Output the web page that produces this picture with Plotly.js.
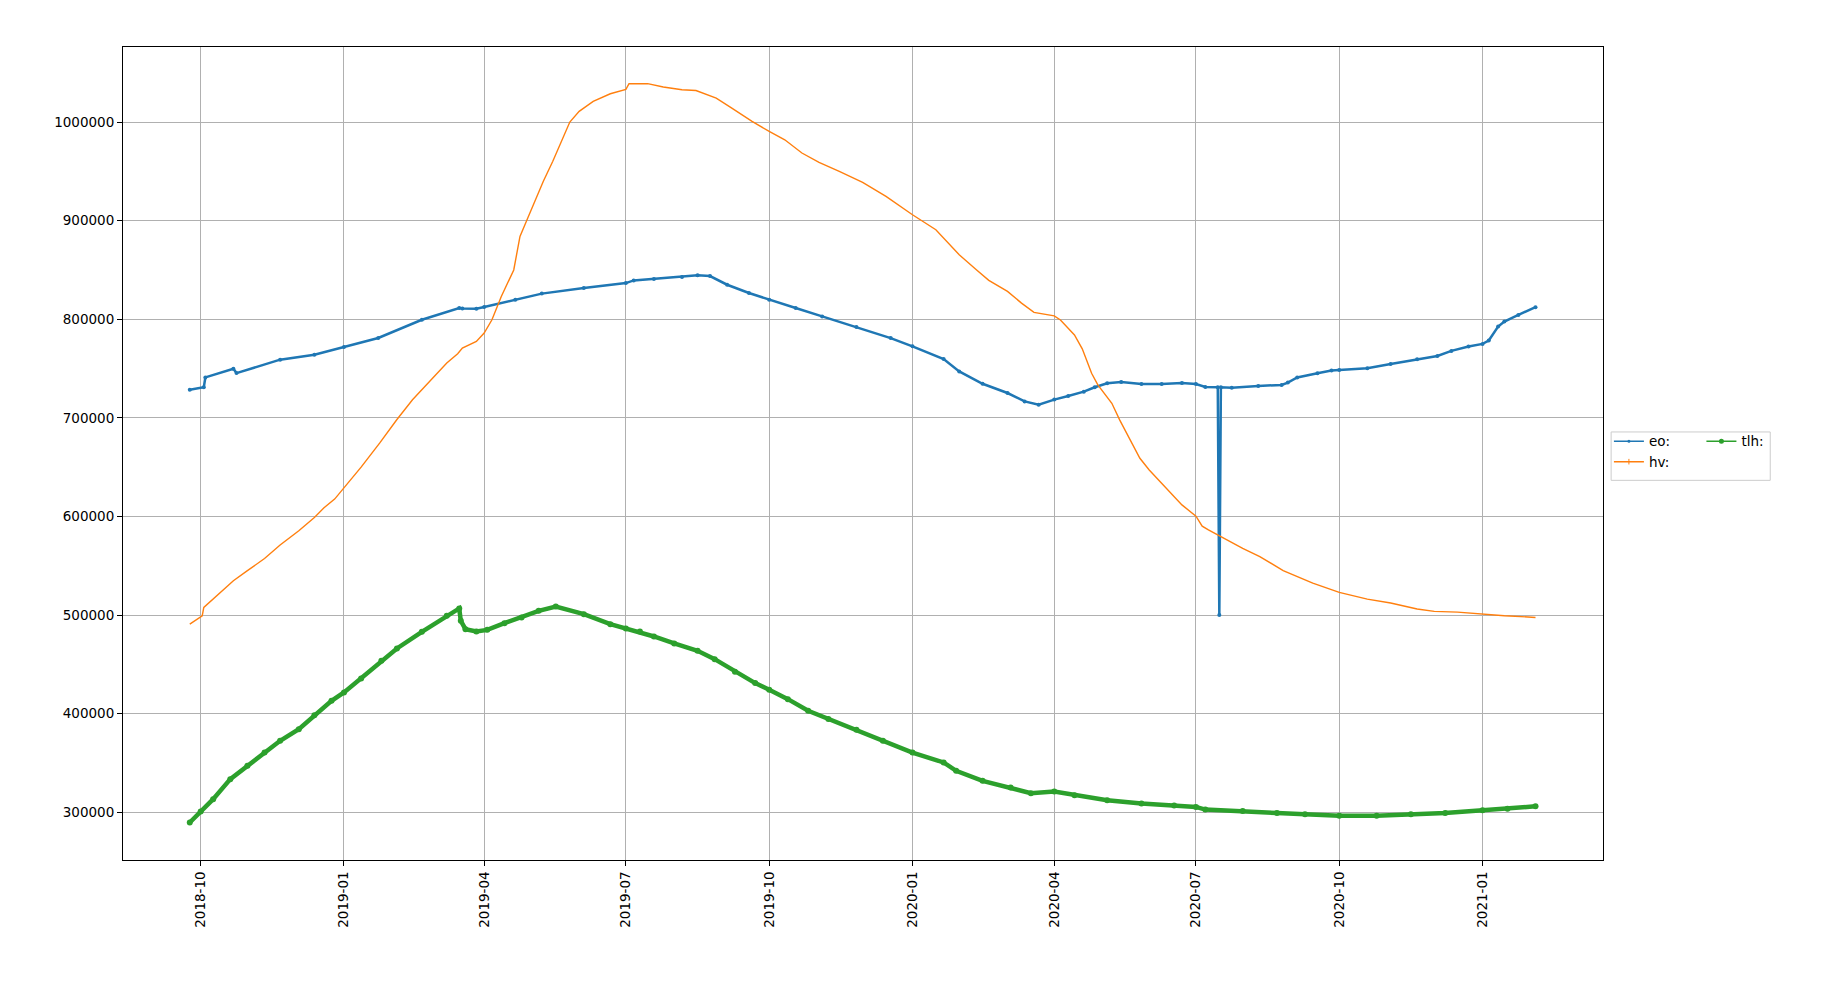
<!DOCTYPE html>
<html>
<head>
<meta charset="utf-8">
<script src="https://cdn.plot.ly/plotly-3.0.1.min.js"></script>
<style>
  html, body { margin: 0; padding: 0; background: #fff; }
  #chart { width: 1848px; height: 982px; }
</style>
</head>
<body>
<div id="chart"></div>
<script>
// valores
const eoFechas = [
  "2018-09-24", "2018-10-03", "2018-10-04", "2018-10-22", "2018-10-24", "2018-11-21",
  "2018-12-13", "2019-01-01", "2019-01-23", "2019-02-20", "2019-03-16", "2019-03-18",
  "2019-03-27", "2019-04-01", "2019-04-21", "2019-05-08", "2019-06-04", "2019-07-01",
  "2019-07-06", "2019-07-19", "2019-08-06", "2019-08-16", "2019-08-24", "2019-09-04",
  "2019-09-18", "2019-10-01", "2019-10-18", "2019-11-04", "2019-11-26", "2019-12-18",
  "2020-01-01", "2020-01-21", "2020-01-31", "2020-02-15", "2020-03-02", "2020-03-13",
  "2020-03-22", "2020-04-01", "2020-04-10", "2020-04-20", "2020-04-27", "2020-05-05",
  "2020-05-14", "2020-05-27", "2020-06-09", "2020-06-22", "2020-07-01", "2020-07-07",
  "2020-07-15", "2020-07-16", "2020-07-17", "2020-07-24", "2020-08-10", "2020-08-25",
  "2020-08-29", "2020-09-04", "2020-09-17", "2020-09-26", "2020-10-01", "2020-10-19",
  "2020-11-03", "2020-11-20", "2020-12-03", "2020-12-12", "2020-12-23", "2021-01-01",
  "2021-01-05", "2021-01-11", "2021-01-15", "2021-01-24", "2021-02-04"
];
const eoValores = [
  728500, 731000, 741000, 749800, 745400, 759000,
  764000, 771800, 781000, 799500, 811400, 810800,
  810700, 812400, 819800, 826000, 831600, 836700,
  839400, 840800, 842800, 844500, 843800, 835000,
  826600, 819800, 811400, 802900, 792100, 780900,
  772500, 759600, 747100, 734600, 725200, 716700,
  713300, 718500, 722200, 726600, 731000, 735100,
  736400, 734400, 734400, 735300, 734300, 731300,
  731000, 500000, 731000, 730600, 732400, 733400,
  735800, 740900, 745300, 748000, 748600, 750300,
  754700, 759500, 762800, 767900, 772300, 775000,
  778400, 792600, 797600, 804400, 812200
];

const hvFechas = [
  "2018-09-24", "2018-10-02", "2018-10-03", "2018-10-09", "2018-10-22", "2018-10-31",
  "2018-11-11", "2018-11-21", "2018-12-03", "2018-12-13", "2018-12-19", "2018-12-26",
  "2019-01-01", "2019-01-12", "2019-01-24", "2019-02-04", "2019-02-14", "2019-02-25",
  "2019-03-08", "2019-03-15", "2019-03-18", "2019-03-27", "2019-04-01", "2019-04-06",
  "2019-04-12", "2019-04-20", "2019-04-24", "2019-04-29", "2019-05-04", "2019-05-09",
  "2019-05-15", "2019-05-20", "2019-05-26", "2019-06-01", "2019-06-10", "2019-06-21",
  "2019-07-01", "2019-07-03", "2019-07-15", "2019-07-25", "2019-08-06", "2019-08-15",
  "2019-08-28", "2019-09-07", "2019-09-20", "2019-10-01", "2019-10-11", "2019-10-22",
  "2019-11-02", "2019-11-15", "2019-11-30", "2019-12-15", "2019-12-24", "2020-01-01",
  "2020-01-16", "2020-01-20", "2020-01-31", "2020-02-11", "2020-02-19", "2020-03-02",
  "2020-03-11", "2020-03-19", "2020-03-28", "2020-04-01", "2020-04-05", "2020-04-14",
  "2020-04-19", "2020-04-25", "2020-04-29", "2020-05-08", "2020-05-13", "2020-05-20",
  "2020-05-26", "2020-06-01", "2020-06-07", "2020-06-14", "2020-06-22", "2020-07-01",
  "2020-07-05", "2020-07-09", "2020-07-16", "2020-07-31", "2020-08-11", "2020-08-26",
  "2020-09-14", "2020-10-01", "2020-10-19", "2020-11-03", "2020-11-20", "2020-12-01",
  "2020-12-16", "2021-01-01", "2021-01-15", "2021-02-04"
];
const hvValores = [
  490800, 499300, 507700, 516200, 534800, 545000,
  557400, 571000, 585500, 599000, 608500, 617600,
  629000, 650000, 674600, 698300, 718400, 737000,
  755600, 765000, 770800, 777500, 786000, 799500,
  823000, 850000, 884000, 902600, 921000, 940000,
  960000, 978700, 1000000, 1010800, 1021000, 1028700,
  1033200, 1038900, 1038900, 1035500, 1032800, 1032000,
  1024300, 1014200, 1000700, 990500, 982000, 968600,
  959000, 950000, 938800, 924600, 914500, 906000,
  890800, 884000, 865400, 850200, 839400, 828300,
  816400, 807000, 804600, 803500, 799300, 784100,
  770000, 745200, 733400, 714800, 697900, 677600,
  659000, 647200, 637000, 625200, 611700, 600300,
  590200, 586300, 580300, 567700, 559300, 545100,
  532400, 523000, 516200, 512200, 506100, 503700,
  503000, 501000, 499300, 497600
];

const tlhFechas = [
  "2018-09-24", "2018-10-01", "2018-10-09", "2018-10-20", "2018-10-31", "2018-11-11",
  "2018-11-21", "2018-12-03", "2018-12-13", "2018-12-24", "2019-01-01", "2019-01-12",
  "2019-01-25", "2019-02-04", "2019-02-20", "2019-03-08", "2019-03-16", "2019-03-17",
  "2019-03-20", "2019-03-27", "2019-04-03", "2019-04-14", "2019-04-25", "2019-05-06",
  "2019-05-17", "2019-06-04", "2019-06-21", "2019-07-01", "2019-07-10", "2019-07-19",
  "2019-08-01", "2019-08-16", "2019-08-27", "2019-09-09", "2019-09-22", "2019-10-01",
  "2019-10-13", "2019-10-26", "2019-11-08", "2019-11-26", "2019-12-13", "2020-01-01",
  "2020-01-21", "2020-01-29", "2020-02-15", "2020-03-04", "2020-03-17", "2020-04-01",
  "2020-04-14", "2020-05-05", "2020-05-27", "2020-06-17", "2020-07-01", "2020-07-07",
  "2020-07-31", "2020-08-22", "2020-09-09", "2020-10-01", "2020-10-25", "2020-11-16",
  "2020-12-08", "2021-01-01", "2021-01-17", "2021-02-04"
];
const tlhValores = [
  289600, 300800, 313300, 333600, 347100, 360600,
  372500, 384300, 398500, 413000, 421500, 435700,
  453600, 466100, 483000, 499300, 506700, 494200,
  485700, 483400, 485000, 491800, 497600, 504300,
  508700, 500900, 490800, 486400, 483400, 478300,
  471200, 463800, 455300, 442500, 431000, 424200,
  414700, 402900, 394500, 383600, 372500, 360600,
  350500, 342000, 331900, 325200, 319400, 321000,
  317200, 312200, 308800, 306800, 305400, 302700,
  301400, 299300, 298000, 296600, 296600, 298000,
  299300, 302000, 303700, 306100
];

const series = ["eo:", "hv:", "tlh:"];
const colores = ["#1f77b4", "#ff7f0e", "#2ca02c"];
const marcasY = [300000, 400000, 500000, 600000, 700000, 800000, 900000, 1000000];

const fuente = { family: "DejaVu Sans, sans-serif", size: 13.5, color: "#000" };

// trazas de datos, sin leyenda
const trazas = [
  {
    x: eoFechas, y: eoValores, name: series[0], type: "scatter", mode: "lines+markers",
    line: { color: colores[0], width: 2.5 },
    marker: { color: colores[0], size: 4, symbol: "circle" },
    showlegend: false
  },
  {
    x: hvFechas, y: hvValores, name: series[1], type: "scatter", mode: "lines",
    line: { color: colores[1], width: 1.4 },
    showlegend: false
  },
  {
    x: tlhFechas, y: tlhValores, name: series[2], type: "scatter", mode: "lines+markers",
    line: { color: colores[2], width: 4.5 },
    marker: { color: colores[2], size: 6, symbol: "circle" },
    showlegend: false
  }
];

// entradas de leyenda con trazo fino, como en matplotlib
const simbolos = [
  { size: 3, symbol: "circle" },
  { size: 4, symbol: "line-ns", line: { width: 1, color: colores[1] } },
  { size: 5, symbol: "circle" }
];
series.forEach((nombre, i) => {
  trazas.push({
    x: [null], y: [null], name: nombre, type: "scatter", mode: "lines+markers",
    line: { color: colores[i], width: 1.5 },
    marker: Object.assign({ color: colores[i] }, simbolos[i]),
    legend: i === 2 ? "legend2" : "legend",
    hoverinfo: "skip"
  });
});

const ejeComun = {
  showline: true, mirror: true, linecolor: "#000", linewidth: 1,
  showgrid: true, gridcolor: "#b0b0b0", gridwidth: 1,
  ticks: "outside", ticklen: 5, tickwidth: 1, tickcolor: "#000",
  zeroline: false, tickfont: fuente
};

const leyendaBase = {
  orientation: "v", xanchor: "left", yanchor: "top",
  bgcolor: "rgba(0,0,0,0)", borderwidth: 0, font: fuente,
  tracegroupgap: 0
};

const layout = {
  width: 1848, height: 982,
  margin: { l: 123, r: 245, t: 47, b: 122 },
  paper_bgcolor: "#fff", plot_bgcolor: "#fff",
  font: fuente,
  showlegend: true,
  xaxis: Object.assign({}, ejeComun, {
    type: "date",
    range: ["2018-08-12 03:00", "2021-03-19 08:00"],
    tick0: "2018-10-01", dtick: "M3", tickformat: "%Y-%m",
    tickangle: -90
  }),
  yaxis: Object.assign({}, ejeComun, {
    range: [251600, 1076100],
    tickmode: "array", tickvals: marcasY,
    ticktext: marcasY.map(v => String(v))
  }),
  legend: Object.assign({}, leyendaBase, { x: 1.004, y: 0.534 }),
  legend2: Object.assign({}, leyendaBase, { x: 1.0665, y: 0.534 }),
  shapes: [{
    type: "rect", xref: "paper", yref: "paper",
    x0: 1.0055, x1: 1.113, y0: 0.467, y1: 0.5265,
    line: { color: "#cccccc", width: 1 },
    fillcolor: "rgba(255,255,255,0.8)", layer: "above"
  }]
};

Plotly.newPlot("chart", trazas, layout, { displayModeBar: false, responsive: false });
</script>
</body>
</html>
